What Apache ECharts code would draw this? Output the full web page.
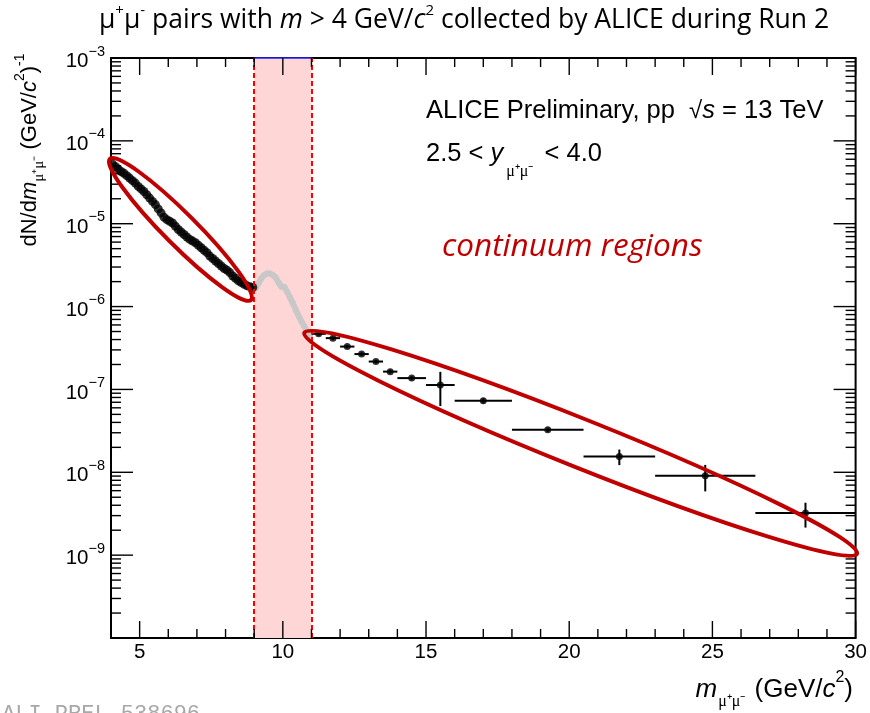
<!DOCTYPE html>
<html>
<head>
<meta charset="utf-8">
<script src="https://cdn.jsdelivr.net/npm/echarts@6/dist/echarts.min.js"></script>
<style>
  html, body { margin: 0; padding: 0; background: #ffffff; }
  #chart { width: 870px; height: 713px; }
</style>
</head>
<body>
<div id="chart"></div>
<script>
// Axis ranges
const X_MIN = 4, X_MAX = 30;
const Y_MIN = 1e-10, Y_MAX = 1e-3;

// Low-mass continuum (4 < m < 9 GeV/c^2), 100 MeV bins
const lowMass = [4.05, 4.15, 4.25, 4.35, 4.45, 4.55, 4.65, 4.75, 4.85, 4.95,
                 5.05, 5.15, 5.25, 5.35, 5.45, 5.55, 5.65, 5.75, 5.85, 5.95,
                 6.05, 6.15, 6.25, 6.35, 6.45, 6.55, 6.65, 6.75, 6.85, 6.95,
                 7.05, 7.15, 7.25, 7.35, 7.45, 7.55, 7.65, 7.75, 7.85, 7.95,
                 8.05, 8.15, 8.25, 8.35, 8.45, 8.55, 8.65, 8.75, 8.85, 8.95];
const lowYield = [5.25e-5, 4.90e-5, 4.57e-5, 4.27e-5, 4.07e-5, 3.80e-5, 3.55e-5, 3.31e-5, 3.09e-5, 2.82e-5,
                  2.63e-5, 2.45e-5, 2.24e-5, 2.04e-5, 1.86e-5, 1.70e-5, 1.51e-5, 1.35e-5, 1.20e-5, 1.12e-5,
                  1.07e-5, 1.02e-5, 9.33e-6, 8.51e-6, 7.94e-6, 7.41e-6, 6.92e-6, 6.46e-6, 6.17e-6, 5.89e-6,
                  5.50e-6, 5.13e-6, 4.79e-6, 4.47e-6, 4.07e-6, 3.80e-6, 3.55e-6, 3.31e-6, 3.09e-6, 2.88e-6,
                  2.75e-6, 2.57e-6, 2.34e-6, 2.19e-6, 2.04e-6, 1.95e-6, 1.86e-6, 1.78e-6, 1.74e-6, 1.70e-6];

// Upsilon region (9 < m < 11 GeV/c^2), shown in grey
const upsMass = [9.05, 9.15, 9.25, 9.35, 9.45, 9.55, 9.65, 9.75, 9.85, 9.95,
                 10.05, 10.15, 10.25, 10.35, 10.45, 10.55, 10.65, 10.75, 10.85, 10.95];
const upsYield = [1.66e-6, 1.91e-6, 2.19e-6, 2.40e-6, 2.51e-6, 2.51e-6, 2.40e-6, 2.24e-6, 1.95e-6, 1.74e-6,
                  1.74e-6, 1.51e-6, 1.29e-6, 1.10e-6, 9.12e-7, 7.76e-7, 6.61e-7, 5.75e-7, 5.01e-7, 4.37e-7];

// High-mass continuum with variable bin widths
const highMass     = [11.25, 11.75, 12.25, 12.75, 13.25, 13.75, 14.5, 15.5, 17.0, 19.25, 21.75, 24.75, 28.25];
const highMassErr  = [0.25, 0.25, 0.25, 0.25, 0.25, 0.25, 0.5, 0.5, 1.0, 1.25, 1.25, 1.75, 1.75];
const highYield    = [4.69e-7, 4.16e-7, 3.29e-7, 2.67e-7, 2.17e-7, 1.64e-7, 1.37e-7, 1.13e-7, 7.3e-8, 3.26e-8, 1.55e-8, 9.08e-9, 3.22e-9];
const highYieldErr = [2.5e-8, 2.0e-8, 1.6e-8, 1.4e-8, 1.1e-8, 9.0e-9, 8.0e-9, 5.0e-8, 5.0e-9, 2.0e-9, 3.3e-9, 3.2e-9, 1.07e-9];

// Excluded resonance window
const bandRange = [9, 11];

// Tick positions
const xMajorTicks = [5, 10, 15, 20, 25, 30];
const xMinorTicks = [6, 7, 8, 9, 11, 12, 13, 14, 16, 17, 18, 19, 21, 22, 23, 24, 26, 27, 28, 29];
const yDecades = [1e-10, 1e-9, 1e-8, 1e-7, 1e-6, 1e-5, 1e-4, 1e-3];
const yMinorSteps = [2, 3, 4, 5, 6, 7, 8, 9];

// Annotation rings, given by the two ends of their long axis (data space) and half-width in px
const rings = [
  { from: [3.96, 6.07e-5], to: [8.89, 1.2e-6], halfWidth: 16 },
  { from: [10.75, 4.82e-7], to: [30.05, 1.04e-9], halfWidth: 24 }
];

const xTickRows = xMajorTicks.map(v => [v, Y_MIN, 17]).concat(xMinorTicks.map(v => [v, Y_MIN, 9]));
const yTickRows = [];
yDecades.forEach((d, i) => {
  yTickRows.push([X_MIN, d, 22]);
  if (i < yDecades.length - 1) yMinorSteps.forEach(k => yTickRows.push([X_MIN, k * d, 10]));
});

const LABEL_FONT = '"Liberation Sans", Arial, Helvetica, sans-serif';
const SERIF_FONT = '"Liberation Serif", "Times New Roman", serif';

const chart = echarts.init(document.getElementById('chart'), null, { renderer: 'canvas' });

function expLabel(v) {
  const e = Math.round(Math.log10(v));
  return '{b|10}{e|' + (e < 0 ? '\u2212' + (-e) : e) + '}';
}

const option = {
  animation: false,
  backgroundColor: '#ffffff',
  grid: {
    left: 111, top: 58, right: 14, bottom: 75,
    show: true, borderColor: '#000000', borderWidth: 2, backgroundColor: 'transparent'
  },
  xAxis: {
    type: 'value', min: X_MIN, max: X_MAX,
    axisLine: { show: false },
    axisTick: { show: false },
    splitLine: { show: false },
    axisLabel: {
      showMinLabel: false, margin: 4, color: '#000',
      fontFamily: LABEL_FONT, fontSize: 20.5
    }
  },
  yAxis: {
    type: 'log', logBase: 10, min: Y_MIN, max: Y_MAX, splitNumber: 7,
    axisLine: { show: false },
    axisTick: { show: false },
    splitLine: { show: false },
    axisLabel: {
      showMinLabel: false, margin: 6, color: '#000',
      formatter: expLabel,
      rich: {
        b: { fontFamily: LABEL_FONT, fontSize: 20.5, lineHeight: 28, verticalAlign: 'middle', padding: [7, 0, 0, 0] },
        e: { fontFamily: LABEL_FONT, fontSize: 14.5, lineHeight: 15, verticalAlign: 'top' }
      }
    }
  },
  series: [
    {
      // resonance window: shaded band, dashed edges
      type: 'line', data: [], silent: true, z: 1,
      markArea: {
        silent: true,
        itemStyle: { color: '#ffd6d6' },
        data: [[{ xAxis: bandRange[0] }, { xAxis: bandRange[1] }]]
      },
      markLine: {
        silent: true, symbol: 'none', label: { show: false },
        lineStyle: { color: '#ff0000', type: [5, 3], width: 2 },
        data: [
          { xAxis: bandRange[0] },
          { xAxis: bandRange[1] },
          [{ coord: [bandRange[0], Y_MAX], lineStyle: { color: '#2020ff', type: 'solid', width: 1.5 } },
           { coord: [bandRange[1], Y_MAX] }]
        ]
      }
    },
    {
      // tick marks along the bottom and top edges
      type: 'custom', silent: true, clip: false, z: 5,
      encode: { x: 0, y: 1 },
      data: xTickRows,
      renderItem: (params, api) => {
        const v = api.value(0), len = api.value(2);
        const b = api.coord([v, Y_MIN]), t = api.coord([v, Y_MAX]);
        return { type: 'group', children: [
          { type: 'line', shape: { x1: b[0], y1: b[1], x2: b[0], y2: b[1] - len }, style: { stroke: '#000', lineWidth: 1.4 } },
          { type: 'line', shape: { x1: t[0], y1: t[1], x2: t[0], y2: t[1] + len }, style: { stroke: '#000', lineWidth: 1.4 } }
        ] };
      }
    },
    {
      // tick marks along the left and right edges
      type: 'custom', silent: true, clip: false, z: 5,
      encode: { x: 0, y: 1 },
      data: yTickRows,
      renderItem: (params, api) => {
        const v = api.value(1), len = api.value(2);
        const l = api.coord([X_MIN, v]), r = api.coord([X_MAX, v]);
        return { type: 'group', children: [
          { type: 'line', shape: { x1: l[0], y1: l[1], x2: l[0] + len, y2: l[1] }, style: { stroke: '#000', lineWidth: 1.4 } },
          { type: 'line', shape: { x1: r[0], y1: r[1], x2: r[0] - len, y2: r[1] }, style: { stroke: '#000', lineWidth: 1.4 } }
        ] };
      }
    },
    {
      name: 'upsilon', type: 'line', z: 3, silent: true,
      data: upsMass.map((m, i) => [m, upsYield[i]]),
      lineStyle: { color: '#c8c8c8', width: 6 },
      symbol: 'circle', symbolSize: 6, showSymbol: true,
      itemStyle: { color: '#c8c8c8' }
    },
    {
      name: 'low mass', type: 'scatter', z: 4, silent: true,
      data: lowMass.map((m, i) => [m, lowYield[i]]),
      symbol: 'circle', symbolSize: 9,
      itemStyle: { color: '#000000' }
    },
    {
      // error bars of the high-mass points
      type: 'custom', silent: true, z: 4,
      encode: { x: 0, y: 1 },
      data: highMass.map((m, i) => [m, highYield[i], highMassErr[i], highYieldErr[i]]),
      renderItem: (params, api) => {
        const m = api.value(0), y = api.value(1), dm = api.value(2), dy = api.value(3);
        const a = api.coord([m - dm, y]), b = api.coord([m + dm, y]);
        const c = api.coord([m, y - dy]), d = api.coord([m, y + dy]);
        return { type: 'group', children: [
          { type: 'line', shape: { x1: a[0], y1: a[1], x2: b[0], y2: b[1] }, style: { stroke: '#000', lineWidth: 2 } },
          { type: 'line', shape: { x1: c[0], y1: c[1], x2: d[0], y2: d[1] }, style: { stroke: '#000', lineWidth: 2 } }
        ] };
      }
    },
    {
      name: 'high mass', type: 'scatter', z: 4, silent: true,
      data: highMass.map((m, i) => [m, highYield[i]]),
      symbol: 'circle', symbolSize: 7,
      itemStyle: { color: '#000000' }
    }
  ]
};

chart.setOption(option);

// Text and annotation rings
const graphics = [
  {
    type: 'text', x: 464, y: 20, z: 50,
    style: {
      text: '{t|\u03bc}{s|+}{t|\u03bc}{s|-}{t| pairs with }{i|m}{t| > 4 GeV/}{i|c}{s|2}{t| collected by ALICE during Run 2}',
      align: 'center', verticalAlign: 'middle',
      rich: {
        t: { fontFamily: '"Open Sans", sans-serif', fontSize: 26.5, lineHeight: 34, verticalAlign: 'middle', fill: '#000' },
        i: { fontFamily: '"Open Sans", sans-serif', fontSize: 26.5, lineHeight: 34, fontStyle: 'italic', verticalAlign: 'middle', fill: '#000' },
        s: { fontFamily: '"Open Sans", sans-serif', fontSize: 15, lineHeight: 18, verticalAlign: 'top', fill: '#000' }
      }
    }
  },
  {
    type: 'text', x: 30, y: 150, rotation: Math.PI / 2, z: 50,
    style: {
      text: '{n|dN/d}{i|m}{sub|\u03bc\u207a\u03bc\u207b}{n| (GeV/}{i|c}{sup|2}{n|)}{sup|-1}',
      align: 'center', verticalAlign: 'middle',
      rich: {
        n: { fontFamily: LABEL_FONT, fontSize: 22, lineHeight: 34, verticalAlign: 'middle', fill: '#000' },
        i: { fontFamily: LABEL_FONT, fontSize: 22, lineHeight: 34, fontStyle: 'italic', verticalAlign: 'middle', fill: '#000' },
        sub: { fontFamily: SERIF_FONT, fontSize: 15, lineHeight: 16, verticalAlign: 'bottom', fill: '#000' },
        sup: { fontFamily: LABEL_FONT, fontSize: 14, lineHeight: 16, verticalAlign: 'top', fill: '#000' }
      }
    }
  },
  {
    type: 'text', x: 853, y: 690, z: 50,
    style: {
      text: '{i|m}{sub|\u03bc\u207a\u03bc\u207b}{n| (GeV/}{i|c}{sup|2}{n|)}',
      align: 'right', verticalAlign: 'middle',
      rich: {
        n: { fontFamily: LABEL_FONT, fontSize: 26, lineHeight: 40, verticalAlign: 'middle', fill: '#000' },
        i: { fontFamily: LABEL_FONT, fontSize: 26, lineHeight: 40, fontStyle: 'italic', verticalAlign: 'middle', fill: '#000' },
        sub: { fontFamily: SERIF_FONT, fontSize: 16, lineHeight: 17, verticalAlign: 'bottom', padding: [0, 2, 0, 1], fill: '#000' },
        sup: { fontFamily: LABEL_FONT, fontSize: 16, lineHeight: 18, verticalAlign: 'top', fill: '#000' }
      }
    }
  },
  {
    type: 'text', x: 426, y: 111, z: 50,
    style: {
      text: '{n|ALICE Preliminary, pp  }{r|\u221a}{i|s}{n| = 13 TeV}',
      align: 'left', verticalAlign: 'middle',
      rich: {
        n: { fontFamily: LABEL_FONT, fontSize: 25.5, lineHeight: 30, verticalAlign: 'middle', fill: '#000' },
        r: { fontFamily: LABEL_FONT, fontSize: 24, lineHeight: 30, verticalAlign: 'middle', fill: '#000' },
        i: { fontFamily: LABEL_FONT, fontSize: 25.5, lineHeight: 30, fontStyle: 'italic', verticalAlign: 'middle', fill: '#000' }
      }
    }
  },
  {
    type: 'text', x: 426, y: 154, z: 50,
    style: {
      text: '{n|2.5 < }{i|y}{sub|\u03bc\u207a\u03bc\u207b}{n| < 4.0}',
      align: 'left', verticalAlign: 'middle',
      rich: {
        n: { fontFamily: LABEL_FONT, fontSize: 25.5, lineHeight: 52, verticalAlign: 'middle', fill: '#000' },
        i: { fontFamily: LABEL_FONT, fontSize: 25.5, lineHeight: 52, fontStyle: 'italic', verticalAlign: 'middle', fill: '#000' },
        sub: { fontFamily: SERIF_FONT, fontSize: 16, lineHeight: 16, verticalAlign: 'bottom', padding: [0, 4, 0, 3], fill: '#000' }
      }
    }
  },
  {
    type: 'text', x: 442, y: 247, z: 50,
    style: {
      text: 'continuum regions', align: 'left', verticalAlign: 'middle',
      fontFamily: '"Open Sans", sans-serif', fontSize: 31.5, fontStyle: 'italic', fill: '#c00000'
    }
  },
  {
    type: 'text', x: 2, y: 703, z: 50,
    style: {
      text: 'ALI-PREL-538696', align: 'left', verticalAlign: 'top',
      fontFamily: '"Liberation Mono", "DejaVu Sans Mono", monospace', fontSize: 22, fill: '#a8a8a8'
    }
  }
];

rings.forEach(r => {
  const p1 = chart.convertToPixel({ xAxisIndex: 0, yAxisIndex: 0 }, r.from);
  const p2 = chart.convertToPixel({ xAxisIndex: 0, yAxisIndex: 0 }, r.to);
  const dx = p2[0] - p1[0], dy = p2[1] - p1[1];
  graphics.push({
    type: 'ellipse', z: 60, silent: true,
    x: (p1[0] + p2[0]) / 2, y: (p1[1] + p2[1]) / 2,
    rotation: -Math.atan2(dy, dx),
    shape: { cx: 0, cy: 0, rx: Math.sqrt(dx * dx + dy * dy) / 2, ry: r.halfWidth },
    style: { fill: 'none', stroke: '#c00000', lineWidth: 4 }
  });
});

chart.setOption({ graphic: graphics });
</script>
</body>
</html>
